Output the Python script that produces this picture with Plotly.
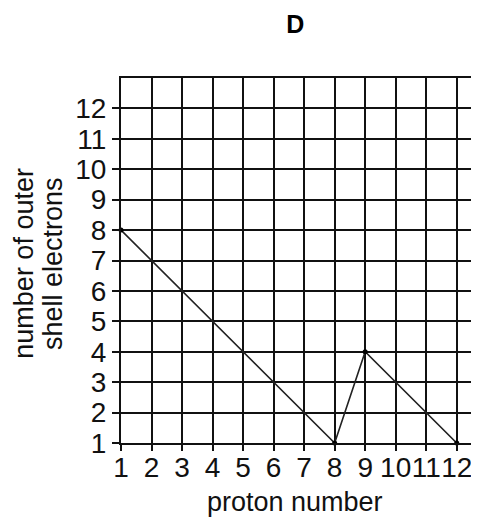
import plotly.graph_objects as go

proton_number = [1, 8, 9, 12]
outer_electrons = [8, 1, 4, 1]
x_ticks = list(range(1, 13))
y_ticks = list(range(1, 13))
y_title_lines = ["number of outer", "shell electrons"]

FONT = "Liberation Sans, Arial, sans-serif"

fig = go.Figure()
fig.add_trace(go.Scatter(
    x=proton_number, y=outer_electrons, mode="lines+markers",
    line=dict(color="#222222", width=1.6),
    marker=dict(color="#000000", size=5),
    showlegend=False, cliponaxis=False,
))

annotations = [dict(
    text="proton number", xref="paper", yref="paper", x=0.486, y=0,
    xanchor="center", yanchor="middle", yshift=-59, showarrow=False,
    font=dict(family=FONT, size=27, color="#111111"),
)]
for line_text, xpos in zip(y_title_lines, [-0.272, -0.19]):
    annotations.append(dict(
        text=line_text, xref="paper", yref="paper", x=xpos, y=0.493,
        xanchor="center", yanchor="middle", textangle=-90, showarrow=False,
        font=dict(family=FONT, size=27, color="#111111"),
    ))

fig.update_layout(
    width=471, height=509,
    margin=dict(l=113, r=0, t=70, b=74),
    paper_bgcolor="white", plot_bgcolor="white",
    font=dict(family=FONT, color="#111111", size=27),
    title=dict(text="<b>D</b>", x=0.61, xanchor="center", y=0.969, yanchor="middle",
               font=dict(family=FONT, size=25, color="black")),
    xaxis=dict(
        range=[1, 12.73], tickmode="array", tickvals=x_ticks,
        ticktext=[str(v) for v in x_ticks], tickangle=0,
        showgrid=True, gridcolor="#111111", gridwidth=2,
        ticks="outside", ticklen=6, tickwidth=2, tickcolor="#111111",
        showline=True, linecolor="#111111", linewidth=2, mirror=True,
        zeroline=False, tickfont=dict(size=28), ticklabelstandoff=-8,
    ),
    yaxis=dict(
        range=[1, 13], tickmode="array", tickvals=y_ticks,
        ticktext=[str(v) for v in y_ticks],
        showgrid=True, gridcolor="#111111", gridwidth=2,
        ticks="outside", ticklen=7, tickwidth=2, tickcolor="#111111",
        showline=True, linecolor="#111111", linewidth=2,
        zeroline=False, tickfont=dict(size=28),
    ),
    annotations=annotations,
)

fig.write_html("out.html")
